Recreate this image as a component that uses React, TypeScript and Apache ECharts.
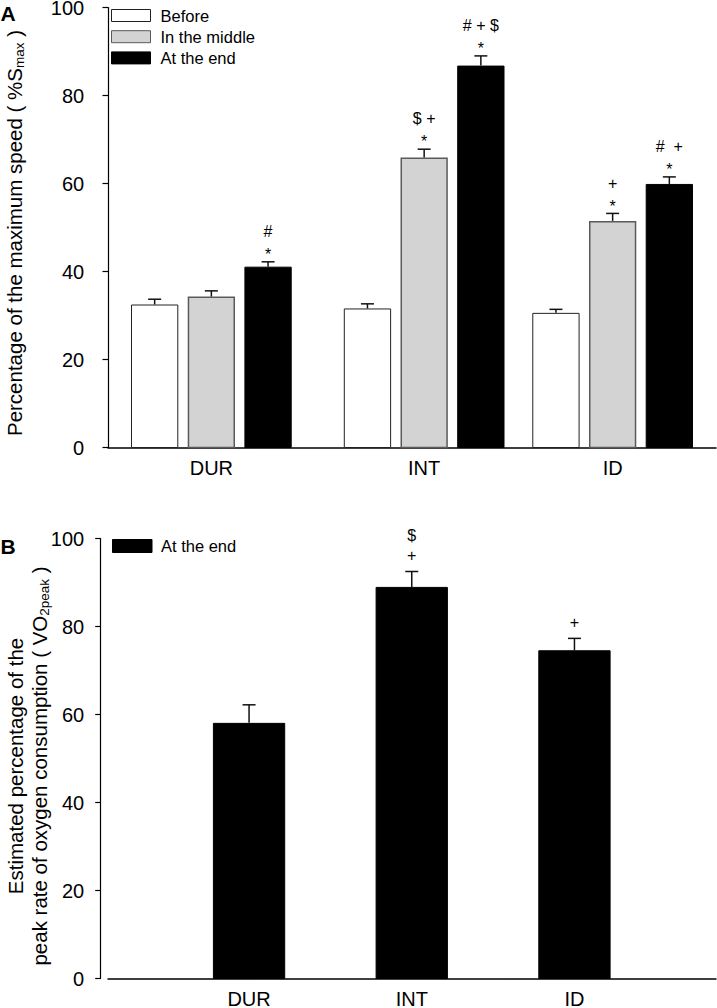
import React, { useEffect, useRef } from "react";
import * as echarts from "echarts";

// ---------- data ----------
const categories = ["DUR", "INT", "ID"];
const conditionsA = ["Before", "In the middle", "At the end"];
const beforeA = [32.5, 31.6, 30.6];
const beforeErrA = [1.2, 1.05, 0.8];
const middleA = [34.3, 65.9, 51.5];
const middleErrA = [1.3, 1.9, 1.7];
const endA = [41.1, 86.8, 59.9];
const endErrA = [1.1, 2.2, 1.6];
const beforeMarksA: string[][] = [[], [], []];
const middleMarksA: string[][] = [[], ["*", "$ +"], ["*", "+"]];
const endMarksA: string[][] = [["*", "#"], ["*", "# + $"], ["*", "#  +"]];

const conditionsB = ["At the end"];
const endB = [58.1, 89.0, 74.6];
const endErrB = [4.1, 3.5, 2.7];
const endMarksB: string[][] = [[], ["+", "$"], ["+"]];

// ---------- layout (axis positions of the groups) ----------
const groupPosA = [1.02, 3.12, 4.98];
const groupPosB = [1, 2, 3];

const FONT = '"Liberation Sans", Arial, Helvetica, sans-serif';

type BarStyle = { fill: string; stroke: string; lw: number };
const styleBefore: BarStyle = { fill: "#ffffff", stroke: "#222222", lw: 1 };
const styleMiddle: BarStyle = { fill: "#d3d3d3", stroke: "#5a5a5a", lw: 1.5 };
const styleEnd: BarStyle = { fill: "#000000", stroke: "#000000", lw: 1 };

function makeRender(
  offset: number,
  width: number,
  st: BarStyle,
  marks: string[][],
  markGaps: number[]
) {
  return (params: any, api: any) => {
    const x = api.value(0);
    const v = api.value(1);
    const e = api.value(2);
    const base = api.coord([x, 0]);
    const top = api.coord([x, v]);
    const et = api.coord([x, v + e]);
    const cx = base[0] + offset;
    const children: any[] = [];
    children.push({
      type: "rect",
      shape: {
        x: cx - width / 2 + st.lw / 2,
        y: top[1] + st.lw / 2,
        width: width - st.lw,
        height: base[1] - top[1] - st.lw / 2,
      },
      style: { fill: st.fill, stroke: st.stroke, lineWidth: st.lw },
    });
    children.push({
      type: "line",
      shape: { x1: cx, y1: top[1], x2: cx, y2: et[1] },
      style: { stroke: "#111", lineWidth: 1.5 },
    });
    children.push({
      type: "line",
      shape: { x1: cx - 6.5, y1: et[1], x2: cx + 6.5, y2: et[1] },
      style: { stroke: "#111", lineWidth: 1.5 },
    });
    const ms = marks[params.dataIndex] || [];
    ms.forEach((m, i) => {
      children.push({
        type: "text",
        x: cx,
        y: et[1] - markGaps[i],
        style: {
          text: m,
          fill: "#000",
          font: `16px ${FONT}`,
          align: "center",
          verticalAlign: "middle",
        },
      });
    });
    return { type: "group", children };
  };
}

function nearestLabel(pos: number[], v: number) {
  let best = 0;
  for (let i = 1; i < pos.length; i++) {
    if (Math.abs(pos[i] - v) < Math.abs(pos[best] - v)) best = i;
  }
  return categories[best];
}

export default function App() {
  const ref = useRef<HTMLDivElement>(null);
  useEffect(() => {
    if (!ref.current) return;
    const chart = echarts.init(ref.current, null, { renderer: "svg" });

    const yAxisCommon = {
      type: "value",
      min: 0,
      max: 100,
      interval: 20,
      offset: 7.3,
      axisLine: { show: true, lineStyle: { color: "#000", width: 1.2 } },
      axisTick: { show: true, length: 5.5, lineStyle: { color: "#000", width: 1.2 } },
      axisLabel: { color: "#000", fontSize: 20, fontFamily: FONT, margin: 16.5 },
      splitLine: { show: false },
    };

    const xAxisCommon = {
      type: "value",
      axisLine: { show: true, onZero: false, lineStyle: { color: "#000", width: 1.5 } },
      axisTick: { show: false },
      splitLine: { show: false },
    };

    const seriesDefsA = [
      { name: conditionsA[0], vals: beforeA, errs: beforeErrA, st: styleBefore, marks: beforeMarksA, off: -56.7 },
      { name: conditionsA[1], vals: middleA, errs: middleErrA, st: styleMiddle, marks: middleMarksA, off: 0 },
      { name: conditionsA[2], vals: endA, errs: endErrA, st: styleEnd, marks: endMarksA, off: 56.7 },
    ];

    const seriesA = seriesDefsA.map((d) => ({
      type: "custom",
      name: d.name,
      xAxisIndex: 0,
      yAxisIndex: 0,
      clip: false,
      renderItem: makeRender(d.off, 47.3, d.st, d.marks, [7.3, 30.4]),
      encode: { x: 0, y: 1 },
      data: categories.map((_, i) => [groupPosA[i], d.vals[i], d.errs[i]]),
    }));

    const seriesB = [
      {
        type: "custom",
        name: conditionsB[0],
        xAxisIndex: 1,
        yAxisIndex: 1,
        clip: false,
        renderItem: makeRender(0, 72.3, styleEnd, endMarksB, [16, 36]),
        encode: { x: 0, y: 1 },
        data: categories.map((_, i) => [groupPosB[i], endB[i], endErrB[i]]),
      },
    ];

    const legendStyles = [styleBefore, styleMiddle, styleEnd];
    const legendA: any[] = [];
    conditionsA.forEach((name, i) => {
      const y = 9.5 + i * 21.2;
      legendA.push({
        type: "rect",
        shape: { x: 111.5, y, width: 39, height: 12 },
        style: { fill: legendStyles[i].fill, stroke: legendStyles[i].stroke, lineWidth: 1 },
      });
      legendA.push({
        type: "text",
        x: 160.5,
        y: y + 6.3,
        style: { text: name, fill: "#000", font: `16.5px ${FONT}`, align: "left", verticalAlign: "middle" },
      });
    });
    const legendB: any[] = [];
    conditionsB.forEach((name, i) => {
      const y = 539.5 + i * 21.2;
      legendB.push({
        type: "rect",
        shape: { x: 112.5, y, width: 39.5, height: 13 },
        style: { fill: styleEnd.fill, stroke: styleEnd.stroke, lineWidth: 1 },
      });
      legendB.push({
        type: "text",
        x: 161,
        y: y + 6.5,
        style: { text: name, fill: "#000", font: `16.5px ${FONT}`, align: "left", verticalAlign: "middle" },
      });
    });

    const richMain = { fontSize: 20.5, fontFamily: FONT, lineHeight: 24, fill: "#000" };
    const richSub = {
      fontSize: 13.5,
      fontFamily: FONT,
      lineHeight: 13.5,
      fill: "#000",
      verticalAlign: "bottom",
      padding: [15, 0, 0, 0],
    };

    const option: any = {
      animation: false,
      backgroundColor: "#ffffff",
      grid: [
        { left: 108, top: 7.5, width: 608, height: 440, containLabel: false, outerBoundsMode: "none" },
        { left: 108, top: 538.5, width: 608, height: 440, containLabel: false, outerBoundsMode: "none" },
      ],
      xAxis: [
        {
          ...xAxisCommon,
          gridIndex: 0,
          min: 0,
          max: 6,
          axisLabel: {
            customValues: groupPosA,
            formatter: (v: number) => nearestLabel(groupPosA, v),
            color: "#000",
            fontSize: 20,
            fontFamily: FONT,
            margin: 10,
          },
        },
        {
          ...xAxisCommon,
          gridIndex: 1,
          min: 0.133,
          max: 3.87,
          axisLabel: {
            customValues: groupPosB,
            formatter: (v: number) => nearestLabel(groupPosB, v),
            color: "#000",
            fontSize: 20,
            fontFamily: FONT,
            margin: 10,
          },
        },
      ],
      yAxis: [
        { ...yAxisCommon, gridIndex: 0 },
        { ...yAxisCommon, gridIndex: 1 },
      ],
      series: [...seriesA, ...seriesB],
      graphic: [
        {
          type: "text",
          x: 0.5,
          y: 2.5,
          style: { text: "A", fill: "#000", font: `bold 21px ${FONT}`, align: "left", verticalAlign: "top" },
        },
        {
          type: "text",
          x: 0.5,
          y: 535.5,
          style: { text: "B", fill: "#000", font: `bold 21px ${FONT}`, align: "left", verticalAlign: "top" },
        },
        {
          type: "text",
          x: 14,
          y: 233,
          rotation: Math.PI / 2,
          style: {
            text: "{m|Percentage of the maximum speed ( %S}{s|max}{m| )}",
            rich: { m: richMain, s: richSub },
            align: "center",
            verticalAlign: "middle",
          },
        },
        {
          type: "text",
          x: 15,
          y: 766,
          rotation: Math.PI / 2,
          style: {
            text: "{m|Estimated percentage of the}",
            rich: { m: richMain },
            align: "center",
            verticalAlign: "middle",
          },
        },
        {
          type: "text",
          x: 39,
          y: 766,
          rotation: Math.PI / 2,
          style: {
            text: "{m|peak rate of oxygen consumption ( VO}{s|2peak}{m| )}",
            rich: { m: richMain, s: richSub },
            align: "center",
            verticalAlign: "middle",
          },
        },
        ...legendA,
        ...legendB,
      ],
    };

    chart.setOption(option);
    return () => {
      chart.dispose();
    };
  }, []);

  return (
    <div
      ref={ref}
      style={{ position: "absolute", left: 0, top: 0, width: 717, height: 1008, background: "#fff" }}
    />
  );
}
